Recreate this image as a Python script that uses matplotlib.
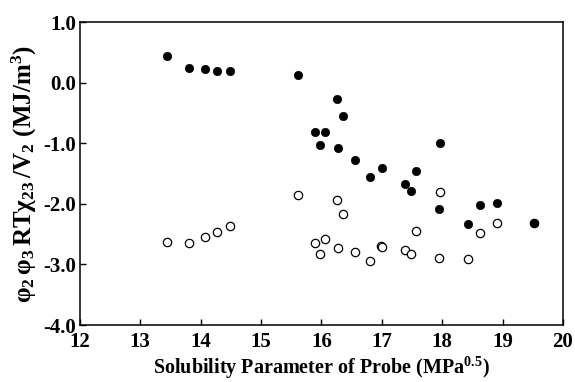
import matplotlib
matplotlib.use("Agg")
import matplotlib.pyplot as plt
from matplotlib.ticker import FormatStrFormatter

# ------------------------------
# Data
# ------------------------------
filled_x = [13.45, 13.80, 14.07, 14.27, 14.48, 15.61, 15.89, 15.98, 16.06, 16.25,
            16.28, 16.36, 16.56, 16.80, 17.00, 17.39, 17.49, 17.57, 17.97, 17.94,
            18.43, 18.63, 18.90, 19.52]
filled_y = [0.44, 0.25, 0.22, 0.20, 0.19, 0.13, -0.81, -1.03, -0.81, -0.27,
            -1.08, -0.55, -1.28, -1.56, -1.41, -1.67, -1.79, -1.45, -1.00, -2.09,
            -2.33, -2.01, -1.98, -2.31]

open_x = [13.45, 13.80, 14.07, 14.27, 14.48, 15.61, 15.89, 15.98, 16.06, 16.25,
          16.28, 16.36, 16.56, 16.80, 16.99, 17.01, 17.39, 17.49, 17.57, 17.97,
          17.94, 18.43, 18.63, 18.90, 19.52]
open_y = [-2.63, -2.65, -2.54, -2.46, -2.37, -1.85, -2.65, -2.83, -2.58, -1.93,
          -2.72, -2.16, -2.80, -2.95, -2.70, -2.71, -2.76, -2.83, -2.45, -1.80,
          -2.90, -2.91, -2.48, -2.31, -2.31]

x_ticks = [12, 13, 14, 15, 16, 17, 18, 19, 20]
y_ticks = [1.0, 0.0, -1.0, -2.0, -3.0, -4.0]

# ------------------------------
# Style
# ------------------------------
plt.rcParams["font.family"] = ["Liberation Serif", "DejaVu Serif"]
plt.rcParams["font.weight"] = "bold"
plt.rcParams["mathtext.fontset"] = "custom"
plt.rcParams["mathtext.rm"] = "Liberation Serif:weight=bold"
plt.rcParams["mathtext.bf"] = "Liberation Serif:weight=bold"
plt.rcParams["mathtext.it"] = "Liberation Serif:weight=bold"
plt.rcParams["axes.unicode_minus"] = False

fig = plt.figure(figsize=(5.75, 3.82), dpi=100)
ax = fig.add_axes([0.139, 0.149, 0.840, 0.793])

ax.plot(open_x, open_y, "o", ms=6.0, mfc="white", mec="black", mew=0.9, zorder=2)
ax.plot(filled_x, filled_y, "o", ms=6.0, mfc="black", mec="black", mew=0.5, zorder=3)

ax.set_xlim(12, 20)
ax.set_ylim(-4.0, 1.0)
ax.set_xticks(x_ticks)
ax.set_yticks(y_ticks)
ax.yaxis.set_major_formatter(FormatStrFormatter("%.1f"))

ax.tick_params(direction="in", length=4, width=1.0, labelsize=15,
               top=False, right=False)
ax.tick_params(axis="y", pad=3)
ax.tick_params(axis="x", pad=5)
for lab in ax.get_xticklabels() + ax.get_yticklabels():
    lab.set_fontweight("bold")
for sp in ax.spines.values():
    sp.set_linewidth(1.1)

ax.set_xlabel(r"Solubility Parameter of Probe (MPa$^{\mathbf{0.5}}$)",
              fontsize=14.5, fontweight="bold", labelpad=2)
ax.set_ylabel(r"$\mathbf{φ_2\,φ_3\,RTχ_{23}\,/V_2\ (MJ/m^3)}$",
              fontsize=18, fontweight="bold", labelpad=3)

fig.savefig("out.png", dpi=100)
